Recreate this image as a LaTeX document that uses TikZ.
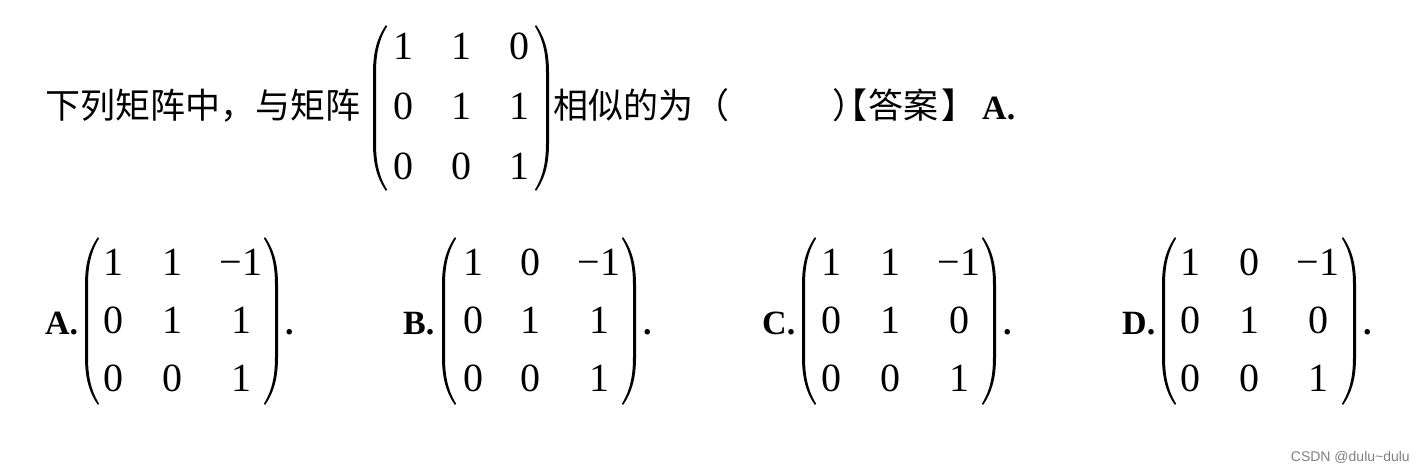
\documentclass[tikz,border=0pt]{standalone}
\usepackage{fontspec}
\setmainfont{Liberation Serif}
\newfontfamily\cjk{Noto Sans CJK SC}
\newfontfamily\wmfont{Liberation Sans}
\newcommand\entfont{\fontsize{40}{40}\selectfont}
\newcommand\cjkfont{\cjk\fontsize{35}{35}\selectfont}
\newcommand\lblfont{\bfseries\fontsize{34}{34}\selectfont}
% left parenthesis: x = left edge, #2 top, #3 bottom
\newcommand\lparen[3]{\fill (#1+13,#2) .. controls (#1+3,#2+14) and (#1,#2+30) .. (#1,#2+48) -- (#1,#3-48) .. controls (#1,#3-30) and (#1+3,#3-14) .. (#1+13,#3) -- (#1+14,#3-1.5) .. controls (#1+5.5,#3-15) and (#1+3,#3-30) .. (#1+3,#3-48) -- (#1+3,#2+48) .. controls (#1+3,#2+30) and (#1+5.5,#2+15) .. (#1+14,#2+1.5) -- cycle;}
% right parenthesis: x = right edge
\newcommand\rparen[3]{\fill (#1-13,#2) .. controls (#1-3,#2+14) and (#1,#2+30) .. (#1,#2+48) -- (#1,#3-48) .. controls (#1,#3-30) and (#1-3,#3-14) .. (#1-13,#3) -- (#1-14,#3-1.5) .. controls (#1-5.5,#3-15) and (#1-3,#3-30) .. (#1-3,#3-48) -- (#1-3,#2+48) .. controls (#1-3,#2+30) and (#1-5.5,#2+15) .. (#1-14,#2+1.5) -- cycle;}
\begin{document}
\begin{tikzpicture}[x=1pt,y=-1pt,
  ent/.style={font=\entfont, inner sep=0pt, anchor=center},
  cjktext/.style={font=\cjkfont, inner sep=0pt, anchor=base west},
  cjkc/.style={font=\cjkfont, inner sep=0pt, anchor=base},
  lbl/.style={font=\lblfont, inner sep=0pt, anchor=base west},
  wm/.style={font=\wmfont\fontsize{14}{14}\selectfont, text=black!50, inner sep=0pt, anchor=east}]
\useasboundingbox[fill=white] (0,0) rectangle (1424,472);

% ---- question line ----
\node[cjktext] (q1) at (45,118) {下列矩阵中，与矩阵};
\lparen{373}{25}{191}
\rparen{549}{25}{191}
\node[ent] (m11) at (403,46) {1};
\node[ent] (m12) at (461,46) {1};
\node[ent] (m13) at (519,46) {0};
\node[ent] (m21) at (403,106) {0};
\node[ent] (m22) at (461,106) {1};
\node[ent] (m23) at (519,106) {1};
\node[ent] (m31) at (403,166) {0};
\node[ent] (m32) at (461,166) {0};
\node[ent] (m33) at (519,166) {1};
\node[cjktext] (q2) at (553,118) {相似的为};
\node[cjkc] (lp) at (712,118) {（};
\node[cjkc] (rp) at (850,118) {）};
\node[cjkc] (lb) at (850,118) {【};
\node[cjkc] (ans) at (903,118) {答案};
\node[cjkc] (rb) at (959,118) {】};
\node[lbl] (qa) at (982,119) {A.};

% ---- option A ----
\node[lbl] (la) at (45,334) {A.};
\lparen{85}{237}{405}
\rparen{278}{237}{405}
\node[ent] (a11) at (113,262) {1};
\node[ent] (a12) at (172,262) {1};
\node[ent] (a13) at (241,262) {−1};
\node[ent] (a21) at (113,320) {0};
\node[ent] (a22) at (172,320) {1};
\node[ent] (a23) at (241,320) {1};
\node[ent] (a31) at (113,378) {0};
\node[ent] (a32) at (172,378) {0};
\node[ent] (a33) at (241,378) {1};
\node[lbl] (pa) at (285,334) {.};

% ---- option B ----
\node[lbl] (lbB) at (403,334) {B.};
\lparen{442}{237}{405}
\rparen{636}{237}{405}
\node[ent] (b11) at (473,262) {1};
\node[ent] (b12) at (530,262) {0};
\node[ent] (b13) at (599,262) {−1};
\node[ent] (b21) at (473,320) {0};
\node[ent] (b22) at (530,320) {1};
\node[ent] (b23) at (599,320) {1};
\node[ent] (b31) at (473,378) {0};
\node[ent] (b32) at (530,378) {0};
\node[ent] (b33) at (599,378) {1};
\node[lbl] (pb) at (643,334) {.};

% ---- option C ----
\node[lbl] (lc) at (762,334) {C.};
\lparen{802}{237}{405}
\rparen{996}{237}{405}
\node[ent] (c11) at (831,262) {1};
\node[ent] (c12) at (890,262) {1};
\node[ent] (c13) at (959,262) {−1};
\node[ent] (c21) at (831,320) {0};
\node[ent] (c22) at (890,320) {1};
\node[ent] (c23) at (959,320) {0};
\node[ent] (c31) at (831,378) {0};
\node[ent] (c32) at (890,378) {0};
\node[ent] (c33) at (959,378) {1};
\node[lbl] (pc) at (1003,334) {.};

% ---- option D ----
\node[lbl] (ld) at (1122,334) {D.};
\lparen{1162}{237}{405}
\rparen{1356}{237}{405}
\node[ent] (d11) at (1190,262) {1};
\node[ent] (d12) at (1249,262) {0};
\node[ent] (d13) at (1318,262) {−1};
\node[ent] (d21) at (1190,320) {0};
\node[ent] (d22) at (1249,320) {1};
\node[ent] (d23) at (1318,320) {0};
\node[ent] (d31) at (1190,378) {0};
\node[ent] (d32) at (1249,378) {0};
\node[ent] (d33) at (1318,378) {1};
\node[lbl] (pd) at (1363,334) {.};

% ---- watermark ----
\node[wm] (wmk) at (1410,457) {CSDN @dulu\textasciitilde dulu};
\end{tikzpicture}
\end{document}
